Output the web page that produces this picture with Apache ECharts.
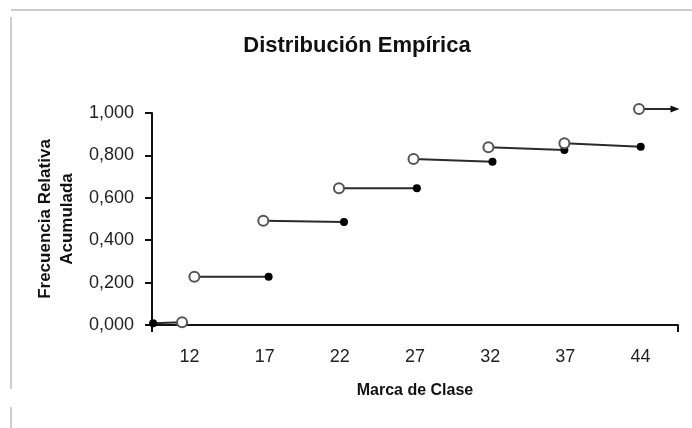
<!DOCTYPE html>
<html>
<head>
<meta charset="utf-8">
<script src="https://cdn.jsdelivr.net/npm/echarts@6/dist/echarts.min.js"></script>
<style>
  html, body { margin: 0; padding: 0; background: #fff; }
  #main { width: 692px; height: 428px; }
</style>
</head>
<body>
<div id="main"></div>
<script>
// marcas de clase (eje X, categorias)
var classMarks = ['12', '17', '22', '27', '32', '37', '44'];

// tramos de la funcion escalonada, x en unidades de categoria (0..7)
var stepStartX = [0.015, 0.564, 1.481, 2.488, 3.480, 4.477, 5.488, 6.481];
var stepEndX   = [0.400, 1.552, 2.555, 3.525, 4.531, 5.488, 6.504, 6.960];
var stepStartY = [0.008, 0.228, 0.492, 0.645, 0.783, 0.838, 0.857, 1.019];
var stepEndY   = [0.013, 0.228, 0.486, 0.645, 0.770, 0.825, 0.841, 1.019];
var startKind  = ['closed', 'open', 'open', 'open', 'open', 'open', 'open', 'open'];
var endKind    = ['open', 'closed', 'closed', 'closed', 'closed', 'closed', 'closed', 'arrow'];

var FONT = '"Liberation Sans", Arial, sans-serif';

var myChart = echarts.init(document.getElementById('main'));

function endPoint(x, y, kind) {
  if (kind === 'open') {
    return {
      value: [x, y], symbol: 'circle', symbolSize: 10,
      itemStyle: { color: '#fff', borderColor: '#555', borderWidth: 2 }
    };
  }
  if (kind === 'arrow') {
    return {
      value: [x, y], symbol: 'triangle', symbolSize: [7, 9], symbolRotate: -90,
      itemStyle: { color: '#111', borderWidth: 0 }
    };
  }
  return {
    value: [x, y], symbol: 'circle', symbolSize: 8,
    itemStyle: { color: '#000', borderWidth: 0 }
  };
}

var series = [];
for (var i = 0; i < stepStartX.length; i++) {
  series.push({
    type: 'line',
    xAxisIndex: 1,
    yAxisIndex: 0,
    clip: false,
    showAllSymbol: true,
    animation: false,
    lineStyle: { color: '#2a2a2a', width: 2 },
    data: [
      endPoint(stepStartX[i], stepStartY[i], startKind[i]),
      endPoint(stepEndX[i], stepEndY[i], endKind[i])
    ]
  });
}

// marco gris de la hoja
var frame = [
  { type: 'line', shape: { x1: 11, y1: 10, x2: 692, y2: 10 }, style: { stroke: '#cdcdcd', lineWidth: 2 } },
  { type: 'line', shape: { x1: 11, y1: 17, x2: 11, y2: 389 }, style: { stroke: '#cdcdcd', lineWidth: 2 } },
  { type: 'line', shape: { x1: 11, y1: 407, x2: 11, y2: 428 }, style: { stroke: '#cdcdcd', lineWidth: 2 } }
];

var option = {
  backgroundColor: '#fff',
  animation: false,
  title: {
    text: 'Distribución Empírica',
    left: 352,
    textAlign: 'center',
    top: 30,
    textStyle: { fontFamily: FONT, fontSize: 22, fontWeight: 'bold', color: '#111' }
  },
  grid: { left: 152, right: 14, top: 113, bottom: 103 },
  xAxis: [
    {
      type: 'category',
      data: classMarks,
      position: 'bottom',
      boundaryGap: true,
      name: 'Marca de Clase',
      nameLocation: 'middle',
      nameGap: 58,
      nameTextStyle: { fontFamily: FONT, fontSize: 16, fontWeight: 'bold', color: '#111' },
      axisLine: { lineStyle: { color: '#111', width: 2 } },
      axisTick: { alignWithLabel: true, length: 7, lineStyle: { color: '#111', width: 2 } },
      axisLabel: { margin: 23, fontFamily: FONT, fontSize: 18, color: '#222' },
      splitLine: { show: false }
    },
    {
      type: 'value',
      min: 0,
      max: 7,
      interval: 7,
      position: 'bottom',
      axisLine: { show: false },
      axisTick: { show: true, length: 7, lineStyle: { color: '#111', width: 2 } },
      axisLabel: { show: false },
      splitLine: { show: false }
    }
  ],
  yAxis: {
    type: 'value',
    min: 0,
    max: 1,
    interval: 0.2,
    name: 'Frecuencia Relativa\nAcumulada',
    nameLocation: 'middle',
    nameGap: 69,
    nameTextStyle: { fontFamily: FONT, fontSize: 17, fontWeight: 'bold', color: '#111', lineHeight: 22 },
    axisLine: { show: true, lineStyle: { color: '#111', width: 2 } },
    axisTick: { show: true, length: 7, lineStyle: { color: '#111', width: 2 } },
    axisLabel: {
      margin: 18, fontFamily: FONT, fontSize: 18, color: '#222',
      formatter: function (v) { return v.toFixed(3).replace('.', ','); }
    },
    splitLine: { show: false }
  },
  graphic: frame,
  series: series
};

myChart.setOption(option);
</script>
</body>
</html>
